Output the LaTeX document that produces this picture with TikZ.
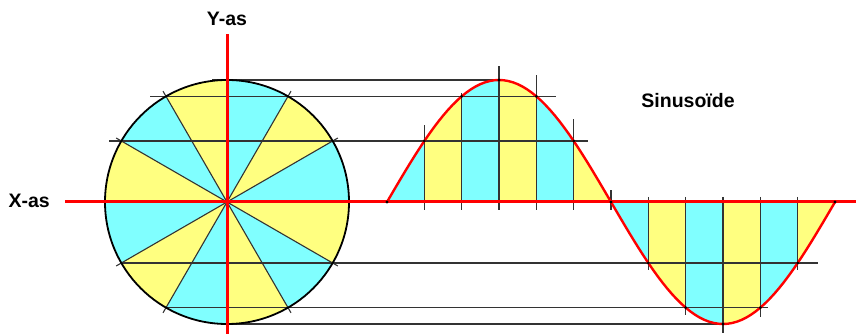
\documentclass[tikz,border=0pt]{standalone}
\usepackage{fontspec}
\setmainfont{Liberation Sans}
\definecolor{lichtblauw}{HTML}{80FFFF}
\definecolor{lichtgeel}{HTML}{FFFF80}

\begin{document}
\begin{tikzpicture}[x=1pt,y=1pt,
    as/.style={red,line width=3pt},
    kromme/.style={red,line width=2.4pt},
    hulplijn/.style={black!80,line width=1.1pt},
    astekst/.style={font=\fontsize{19.5}{22}\selectfont\bfseries}]
    \useasboundingbox (0,0) rectangle (856,334);
    % cirkel in twaalf sectoren
    \foreach \a in {0,60,...,300}
    \fill[lichtblauw] (227,132) -- ++(\a:122) arc[start angle=\a, end angle=\a+30, radius=122] -- cycle;
    \foreach \a in {30,90,...,330}
    \fill[lichtgeel] (227,132) -- ++(\a:122) arc[start angle=\a, end angle=\a+30, radius=122] -- cycle;
    % stroken onder de sinus
    \foreach \k in {0,2,...,10}
    \fill[lichtblauw] ({387+\k*30*1.24444},132) -- plot[domain=\k*30:\k*30+30,samples=12] ({387+\x*1.24444},{132+122*sin(\x)}) -- ({387+(\k*30+30)*1.24444},132) -- cycle;
    \foreach \k in {1,3,...,11}
    \fill[lichtgeel] ({387+\k*30*1.24444},132) -- plot[domain=\k*30:\k*30+30,samples=12] ({387+\x*1.24444},{132+122*sin(\x)}) -- ({387+(\k*30+30)*1.24444},132) -- cycle;
    % projectielijnen
    \foreach \a/\l/\r in {90/212/499,60/150/556,30/109/588,210/121/818,240/166/768,270/227/725}
    \draw[hulplijn] (\l,{132+122*sin(\a)}) -- (\r,{132+122*sin(\a)});
    \foreach \a/\t in {30/16,60/3,90/14,120/21,150/22}
    \draw[hulplijn] ({387+\a*1.24444},124) -- ({387+\a*1.24444},{132+122*sin(\a)+\t});
    \foreach \a/\t in {210/7,240/7,270/9,300/9,330/7}
    \draw[hulplijn] ({387+\a*1.24444},137) -- ({387+\a*1.24444},{132+122*sin(\a)-\t});
    \draw[hulplijn] ({387+180*1.24444},124) -- +(0,20);
    % stralen en cirkel
    \foreach \a in {30,60,120,150,210,240,300,330}
    \draw[hulplijn] (227,132) -- ++(\a:128);
    \draw[line width=1.8pt] (227,132) circle [radius=122];
    % assen en sinus
    \draw[as] (65,132) -- (856,132);
    \draw[as] (227,0) -- (227,300);
    \draw[kromme] plot[domain=0:360,samples=97] ({387+\x*1.24444},{132+122*sin(\x)});
    % puntjes op de sinus
    \foreach \a in {0,30,...,360}
    \fill ({387+\a*1.24444},{132+122*sin(\a)}) circle [radius=1.6];
    \node[astekst] (yas) at (227,315) {Y-as};
    \node[astekst,anchor=west] (xas) at (5,133) {X-as};
    \node[astekst] (sinus) at (688,233) {Sinusoïde};
\end{tikzpicture}
\end{document}
